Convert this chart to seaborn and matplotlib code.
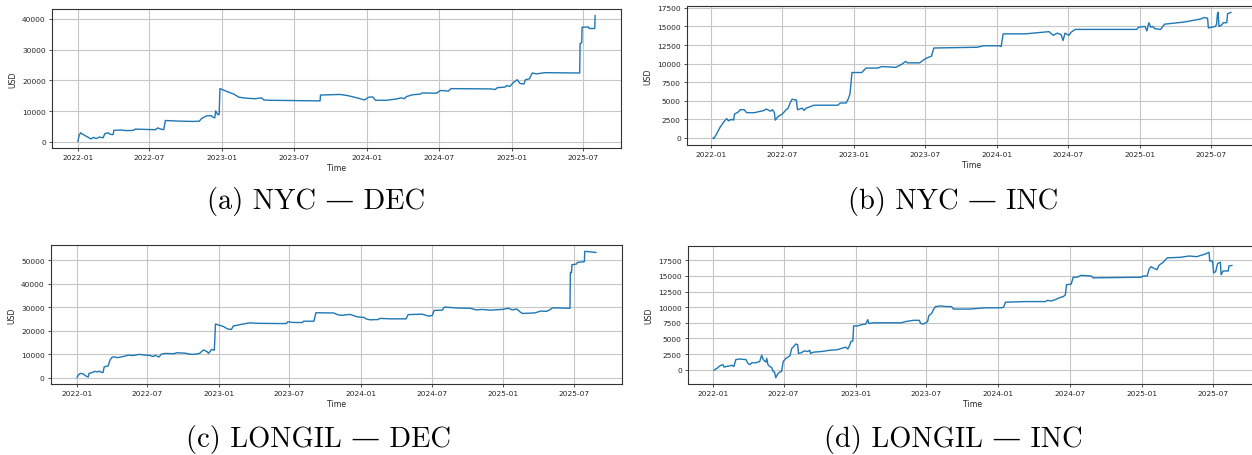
import matplotlib
matplotlib.use("Agg")
import matplotlib.pyplot as plt
import matplotlib.dates as mdates
import pandas as pd
import seaborn as sns

# ---------------------------------------------------------------- data
nyc_dec_dates = [
    "2022-01-01", "2022-01-04", "2022-01-08", "2022-01-16", "2022-01-26", "2022-02-03", "2022-02-10", "2022-02-16",
    "2022-02-24", "2022-03-06", "2022-03-10", "2022-03-18", "2022-03-24", "2022-03-31", "2022-04-02", "2022-04-20",
    "2022-05-05", "2022-05-22", "2022-05-26", "2022-06-20", "2022-07-16", "2022-07-22", "2022-07-27", "2022-08-06",
    "2022-08-10", "2022-09-15", "2022-10-20", "2022-11-04", "2022-11-10", "2022-11-22", "2022-12-04", "2022-12-09",
    "2022-12-13", "2022-12-15", "2022-12-20", "2022-12-24", "2022-12-26", "2023-01-10", "2023-01-30", "2023-02-12",
    "2023-03-01", "2023-03-25", "2023-04-10", "2023-04-16", "2023-05-01", "2023-09-05", "2023-09-06", "2023-10-25",
    "2023-11-15", "2023-12-10", "2023-12-26", "2024-01-06", "2024-01-16", "2024-01-23", "2024-02-20", "2024-03-15",
    "2024-03-28", "2024-04-05", "2024-04-10", "2024-04-26", "2024-05-15", "2024-05-20", "2024-06-25", "2024-07-05",
    "2024-07-25", "2024-08-01", "2024-11-10", "2024-11-20", "2024-11-26", "2024-12-15", "2024-12-20", "2024-12-27",
    "2025-01-05", "2025-01-15", "2025-01-22", "2025-02-01", "2025-02-05", "2025-02-15", "2025-02-22", "2025-03-05",
    "2025-03-25", "2025-06-22", "2025-06-23", "2025-06-27", "2025-06-28", "2025-07-14", "2025-07-16", "2025-07-30",
    "2025-07-31",
]
nyc_dec_usd = [
    0, 2000, 2900, 2200, 1500, 900, 1400, 1000,
    1500, 1300, 2600, 2900, 2400, 2300, 3700, 3800,
    3600, 3700, 4100, 4000, 3900, 4500, 4200, 3900,
    6900, 6700, 6600, 6700, 7600, 8400, 8500, 7900,
    7800, 10000, 8900, 8800, 17300, 16500, 15500, 14500,
    14200, 14000, 14300, 13600, 13500, 13300, 15200, 15400,
    15000, 14200, 13600, 14500, 14600, 13500, 13500, 13900,
    14300, 14000, 14700, 15300, 15500, 15900, 15800, 16700,
    16500, 17300, 17200, 17000, 17600, 17800, 18300, 18000,
    19200, 20200, 19000, 18800, 20200, 20500, 22400, 22100,
    22500, 22400, 32000, 32200, 37300, 37400, 36900, 36900,
    41200,
]

nyc_inc_dates = [
    "2022-01-06", "2022-01-08", "2022-01-15", "2022-01-25", "2022-02-05", "2022-02-10", "2022-02-15", "2022-02-22",
    "2022-02-28", "2022-03-02", "2022-03-12", "2022-03-17", "2022-03-27", "2022-04-02", "2022-04-22", "2022-05-17",
    "2022-05-22", "2022-06-02", "2022-06-07", "2022-06-12", "2022-06-14", "2022-06-22", "2022-07-02", "2022-07-12",
    "2022-07-17", "2022-07-22", "2022-07-27", "2022-08-07", "2022-08-10", "2022-08-22", "2022-08-27", "2022-09-01",
    "2022-09-21", "2022-11-21", "2022-11-27", "2022-12-12", "2022-12-17", "2022-12-22", "2022-12-27", "2023-01-21",
    "2023-02-01", "2023-03-03", "2023-03-13", "2023-04-18", "2023-05-03", "2023-05-13", "2023-05-18", "2023-06-18",
    "2023-06-28", "2023-07-08", "2023-07-18", "2023-07-24", "2023-11-12", "2023-11-28", "2024-01-07", "2024-01-12",
    "2024-01-17", "2024-03-13", "2024-04-23", "2024-05-13", "2024-05-24", "2024-06-03", "2024-06-13", "2024-06-18",
    "2024-06-23", "2024-07-03", "2024-07-08", "2024-07-19", "2024-12-23", "2024-12-28", "2025-01-13", "2025-01-18",
    "2025-01-23", "2025-01-28", "2025-02-02", "2025-02-07", "2025-02-22", "2025-03-04", "2025-04-24", "2025-06-04",
    "2025-06-14", "2025-06-22", "2025-06-24", "2025-07-12", "2025-07-15", "2025-07-17", "2025-07-19", "2025-07-21",
    "2025-07-28", "2025-08-01", "2025-08-10", "2025-08-12", "2025-08-21",
]
nyc_inc_usd = [
    0, -100, 500, 1500, 2300, 2600, 2300, 2500,
    2400, 3200, 3500, 3800, 3800, 3400, 3400, 3700,
    3900, 3600, 3800, 3400, 2400, 2900, 3200, 3800,
    4000, 4700, 5200, 5100, 3800, 4000, 3700, 4000,
    4400, 4400, 4700, 4700, 5200, 5900, 8800, 8800,
    9400, 9400, 9600, 9500, 9900, 10300, 10100, 10100,
    10500, 10800, 11000, 12100, 12200, 12400, 12400, 12300,
    14000, 14000, 14200, 14300, 13800, 14100, 13900, 13100,
    14100, 13800, 14200, 14600, 14600, 14900, 15000, 14400,
    15500, 14900, 15000, 14700, 14600, 15300, 15600, 16000,
    16200, 16100, 14800, 15000, 15300, 16600, 16900, 15000,
    15200, 15500, 15500, 16700, 16900,
]

longil_dec_dates = [
    "2022-01-01", "2022-01-04", "2022-01-09", "2022-01-16", "2022-01-25", "2022-01-30", "2022-02-01", "2022-02-09",
    "2022-02-16", "2022-02-22", "2022-02-27", "2022-03-04", "2022-03-09", "2022-03-12", "2022-03-22", "2022-03-27",
    "2022-04-02", "2022-04-09", "2022-04-14", "2022-04-24", "2022-05-05", "2022-05-13", "2022-05-25", "2022-06-10",
    "2022-06-25", "2022-07-06", "2022-07-16", "2022-07-21", "2022-07-31", "2022-08-06", "2022-08-16", "2022-09-06",
    "2022-09-16", "2022-10-07", "2022-10-17", "2022-10-27", "2022-11-12", "2022-11-22", "2022-12-02", "2022-12-05",
    "2022-12-13", "2022-12-20", "2022-12-23", "2023-01-02", "2023-01-13", "2023-01-23", "2023-02-02", "2023-02-07",
    "2023-02-18", "2023-02-28", "2023-03-21", "2023-04-10", "2023-06-01", "2023-06-23", "2023-06-27", "2023-07-07",
    "2023-08-02", "2023-08-07", "2023-09-02", "2023-09-07", "2023-10-23", "2023-11-03", "2023-11-13", "2023-12-04",
    "2023-12-14", "2023-12-24", "2024-01-09", "2024-01-14", "2024-01-24", "2024-02-14", "2024-02-19", "2024-03-16",
    "2024-04-26", "2024-05-01", "2024-06-06", "2024-06-22", "2024-07-02", "2024-07-07", "2024-07-28", "2024-08-02",
    "2024-09-07", "2024-10-08", "2024-10-23", "2024-11-08", "2024-11-28", "2024-12-29", "2025-01-14", "2025-01-24",
    "2025-02-04", "2025-02-14", "2025-02-19", "2025-03-22", "2025-04-07", "2025-04-22", "2025-05-02", "2025-05-07",
    "2025-06-21", "2025-06-22", "2025-06-25", "2025-06-26", "2025-07-08", "2025-07-10", "2025-07-28", "2025-07-29",
    "2025-08-27",
]
longil_dec_usd = [
    0, 1000, 1800, 1700, 600, 300, 1800, 2200,
    2700, 2400, 2800, 2300, 2200, 4600, 5000, 7500,
    8800, 8800, 8500, 8800, 9200, 9600, 9400, 9900,
    9600, 9500, 9000, 9500, 8800, 10000, 10300, 10200,
    10600, 10400, 10000, 9900, 10300, 11800, 11000, 10300,
    12000, 11700, 22800, 22300, 21700, 20700, 20500, 22000,
    22300, 22700, 23300, 23100, 23000, 23000, 23800, 23500,
    23400, 24000, 24000, 27600, 27500, 26700, 26500, 26900,
    26300, 25800, 25600, 25000, 24600, 24700, 25200, 25000,
    25000, 26800, 27000, 26200, 26400, 28600, 28700, 30000,
    29600, 29500, 28800, 29000, 28700, 29000, 29500, 28800,
    29200, 27800, 27300, 27500, 28300, 28200, 29000, 29700,
    29500, 44800, 44600, 48000, 48300, 49000, 49300, 53700,
    53200,
]

longil_inc_dates = [
    "2022-01-04", "2022-01-09", "2022-01-14", "2022-01-19", "2022-01-27", "2022-01-30", "2022-02-04", "2022-02-14",
    "2022-02-19", "2022-02-24", "2022-03-01", "2022-03-11", "2022-03-27", "2022-04-01", "2022-04-06", "2022-04-11",
    "2022-04-21", "2022-05-01", "2022-05-06", "2022-05-10", "2022-05-17", "2022-05-19", "2022-05-22", "2022-05-27",
    "2022-06-01", "2022-06-04", "2022-06-08", "2022-06-11", "2022-06-16", "2022-06-21", "2022-06-26", "2022-06-30",
    "2022-07-07", "2022-07-17", "2022-07-22", "2022-07-27", "2022-08-01", "2022-08-06", "2022-08-08", "2022-08-16",
    "2022-08-22", "2022-09-01", "2022-09-06", "2022-09-08", "2022-09-16", "2022-10-06", "2022-10-17", "2022-10-27",
    "2022-11-16", "2022-11-26", "2022-12-07", "2022-12-12", "2022-12-17", "2022-12-20", "2022-12-25", "2022-12-27",
    "2023-01-06", "2023-01-16", "2023-01-27", "2023-02-01", "2023-02-04", "2023-02-16", "2023-03-19", "2023-04-28",
    "2023-05-09", "2023-05-29", "2023-06-13", "2023-06-16", "2023-06-24", "2023-07-04", "2023-07-07", "2023-07-14",
    "2023-07-19", "2023-07-24", "2023-08-08", "2023-08-19", "2023-09-03", "2023-09-08", "2023-10-19", "2023-11-08",
    "2023-11-29", "2024-01-08", "2024-01-14", "2024-01-19", "2024-03-10", "2024-04-30", "2024-05-05", "2024-05-15",
    "2024-05-25", "2024-06-04", "2024-06-15", "2024-06-20", "2024-06-23", "2024-07-05", "2024-07-10", "2024-07-20",
    "2024-07-30", "2024-08-25", "2024-08-30", "2024-12-30", "2025-01-05", "2025-01-15", "2025-01-20", "2025-01-25",
    "2025-01-30", "2025-02-09", "2025-02-14", "2025-02-25", "2025-03-07", "2025-04-11", "2025-05-02", "2025-05-22",
    "2025-06-01", "2025-06-12", "2025-06-22", "2025-06-24", "2025-07-01", "2025-07-04", "2025-07-09", "2025-07-14",
    "2025-07-21", "2025-07-23", "2025-07-28", "2025-08-10", "2025-08-12", "2025-08-20",
]
longil_inc_usd = [
    -100, 100, 300, 600, 800, 400, 500, 600,
    700, 500, 1600, 1700, 1600, 1000, 800, 1100,
    1100, 1300, 2300, 1600, 1200, 1800, 800, 500,
    300, -300, -400, -1300, -700, -400, -300, 1300,
    1800, 2200, 3400, 3700, 4100, 4000, 2600, 2700,
    3000, 2900, 3100, 2600, 2800, 2900, 3000, 3100,
    3200, 3400, 3600, 3300, 3900, 4500, 4600, 7000,
    7000, 7200, 7300, 8000, 7400, 7500, 7500, 7500,
    7700, 7900, 7900, 7400, 7300, 7700, 8600, 9000,
    9600, 10100, 10200, 10100, 10100, 9700, 9700, 9800,
    9900, 9900, 10000, 10800, 10900, 10900, 11100, 11000,
    11200, 11500, 11700, 12000, 13600, 13700, 14800, 14800,
    15100, 15000, 14700, 14800, 15000, 15000, 16100, 16500,
    16300, 16000, 16700, 17200, 17900, 18000, 18200, 18100,
    18300, 18500, 18800, 17400, 17400, 15500, 15700, 17000,
    17200, 15200, 15800, 15800, 16600, 16700,
]

captions = ["(a) NYC — DEC", "(b) NYC — INC", "(c) LONGIL — DEC", "(d) LONGIL — INC"]

# ---------------------------------------------------------------- style
sns.set_style("whitegrid", {
    "axes.edgecolor": "#333333",
    "grid.color": "#c6c6c6",
    "xtick.bottom": True,
    "ytick.left": True,
})
plt.rcParams["font.family"] = ["DejaVu Sans"]

W, H = 1252, 456
fig = plt.figure(figsize=(W / 100, H / 100), dpi=100)
fig.patch.set_facecolor("white")


def px_axes(left, top, right, bottom):
    return fig.add_axes([left / W, 1 - bottom / H, (right - left) / W, (bottom - top) / H])


panels = [
    (nyc_dec_dates, nyc_dec_usd, (52, 10, 621, 149)),
    (nyc_inc_dates, nyc_inc_usd, (687, 7, 1257, 146)),
    (longil_dec_dates, longil_dec_usd, (51, 246, 622, 385)),
    (longil_inc_dates, longil_inc_usd, (688, 247, 1258, 385)),
]

for dates, usd, box in panels:
    ax = px_axes(*box)
    sns.lineplot(x=pd.to_datetime(dates), y=usd, ax=ax, color="#1f77b4",
                 linewidth=1.0, estimator=None, sort=False)
    ax.xaxis.set_major_locator(mdates.MonthLocator(bymonth=[1, 7]))
    ax.xaxis.set_major_formatter(mdates.DateFormatter("%Y-%m"))
    ax.tick_params(axis="both", labelsize=5.4, length=2.5, width=0.6, pad=2,
                   color="#333333", labelcolor="#262626")
    ax.grid(True, color="#c6c6c6", linewidth=0.8)
    for sp in ax.spines.values():
        sp.set_linewidth(0.8)
    ax.set_xlabel("Time", fontsize=5.6, color="#262626", labelpad=2)
    ax.set_ylabel("USD", fontsize=5.6, color="#262626", labelpad=3)

# sub-figure captions
cap_pos = [(316, 202), (953, 202), (318, 440), (953, 440)]
for text, (cx, cy) in zip(captions, cap_pos):
    fig.text(cx / W, 1 - cy / H, text, ha="center", va="center",
             fontsize=20.5, family=["cmr10", "DejaVu Serif"], color="black")

fig.savefig("out.png", dpi=100, facecolor="white")
